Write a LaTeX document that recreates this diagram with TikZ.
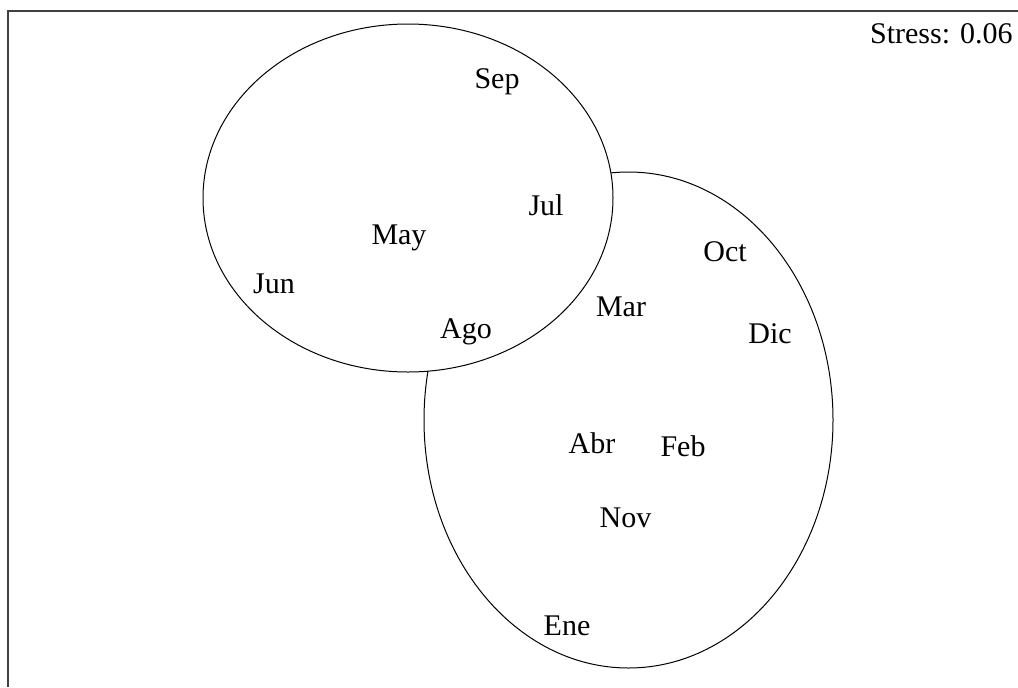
\documentclass[tikz,border=0pt]{standalone}
\usepackage{fontspec}
\setmainfont{Liberation Serif}
\begin{document}
\begin{tikzpicture}[x=0.5pt,y=-0.5pt,
  lbl/.style={anchor=base,inner sep=0pt,font=\fontsize{15}{18}\selectfont},
  ring/.style={draw=black,line width=0.5pt,fill=white},
  frame/.style={draw=black!75,line width=1pt}]
\useasboundingbox (0,0) rectangle (1018,687);
\fill[white] (0,0) rectangle (1018,687);
\draw[frame] (8,687) coordinate (fb) -- (8,11) coordinate (fc) -- (1018,11) coordinate (fr);
\draw[ring] (628.5,420) ellipse [x radius=204.5, y radius=248];
\draw[ring] (408,198) ellipse [x radius=205, y radius=174];
\node[lbl,anchor=base east] (stress) at (1013,43) {Stress: 0.06};
\node[lbl] (sep) at (497,88) {Sep};
\node[lbl] (jul) at (546,215) {Jul};
\node[lbl] (may) at (399,244) {May};
\node[lbl] (jun) at (274,293) {Jun};
\node[lbl] (ago) at (466,338) {Ago};
\node[lbl] (mar) at (621,316) {Mar};
\node[lbl] (oct) at (725,261) {Oct};
\node[lbl] (dic) at (770,343) {Dic};
\node[lbl] (abr) at (592,453) {Abr};
\node[lbl] (feb) at (683,456) {Feb};
\node[lbl] (nov) at (625.5,527) {Nov};
\node[lbl] (ene) at (567,635) {Ene};
\end{tikzpicture}
\end{document}
